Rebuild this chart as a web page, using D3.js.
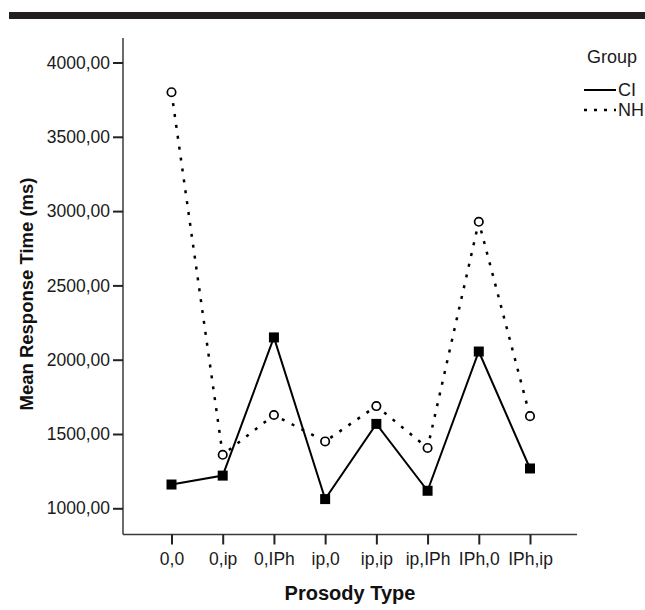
<!DOCTYPE html>
<html>
<head>
<meta charset="utf-8">
<script src="https://cdn.jsdelivr.net/npm/d3@7"></script>
<style>
  html, body { margin: 0; padding: 0; background: #fff; }
  svg { display: block; font-family: "Liberation Sans", Arial, sans-serif; }
</style>
</head>
<body>
<svg id="chart" width="645" height="610"></svg>
<script>
// Prosody types on the x axis
const categories = ["0,0", "0,ip", "0,IPh", "ip,0", "ip,ip", "ip,IPh", "IPh,0", "IPh,ip"];
// Mean response time (ms) per group
const ciValues = [1160, 1220, 2150, 1062, 1568, 1118, 2055, 1268];
const nhValues = [3800, 1360, 1628, 1450, 1688, 1406, 2928, 1620];
const yTicks = [1000, 1500, 2000, 2500, 3000, 3500, 4000];
const groups = ["CI", "NH"];

const svg = d3.select("#chart");
const fmt = v => d3.format(".2f")(v).replace(".", ",");

// Top rule
svg.append("rect").attr("x", 9).attr("y", 12).attr("width", 636).attr("height", 7).attr("fill", "#231f20");

const x = d3.scalePoint().domain(categories).range([171.5, 530]);
const y = d3.scaleLinear().domain([1000, 4000]).range([508.3, 62.5]);
const axisLeftX = 123, axisBottomY = 534.5;

// Axes lines
const axisColor = "#3a3a3a";
svg.append("line").attr("x1", axisLeftX).attr("x2", axisLeftX)
  .attr("y1", 38).attr("y2", axisBottomY).attr("stroke", axisColor).attr("stroke-width", 1.5);
svg.append("line").attr("x1", axisLeftX).attr("x2", 577)
  .attr("y1", axisBottomY).attr("y2", axisBottomY).attr("stroke", axisColor).attr("stroke-width", 1.5);

const tickFont = "17.5px";

// Y axis ticks and labels
const yAxis = svg.append("g").attr("transform", `translate(${axisLeftX},0)`)
  .call(d3.axisLeft(y).tickValues(yTicks).tickFormat(fmt).tickSize(10).tickPadding(3));
yAxis.select(".domain").remove();
yAxis.selectAll(".tick line").attr("stroke", "#222").attr("stroke-width", 2);
yAxis.selectAll(".tick text").attr("fill", "#1a1a1a").style("font-size", tickFont)
  .style("font-family", "'Liberation Sans', Arial, sans-serif");

// X axis ticks and labels
const xAxis = svg.append("g").attr("transform", `translate(0,${axisBottomY})`)
  .call(d3.axisBottom(x).tickSize(10).tickPadding(8));
xAxis.select(".domain").remove();
xAxis.selectAll(".tick line").attr("stroke", "#222").attr("stroke-width", 2);
xAxis.selectAll(".tick text").attr("fill", "#1a1a1a").style("font-size", tickFont)
  .style("font-family", "'Liberation Sans', Arial, sans-serif");

// Axis titles
svg.append("text").attr("x", 350).attr("y", 600).attr("text-anchor", "middle")
  .style("font-size", "20px").style("font-weight", "bold").attr("fill", "#111")
  .text("Prosody Type");
svg.append("text").attr("transform", "translate(33,294) rotate(-90)").attr("text-anchor", "middle")
  .style("font-size", "18.5px").style("font-weight", "bold").attr("fill", "#111")
  .text("Mean Response Time (ms)");

const line = d3.line().x((d, i) => x(categories[i])).y(d => y(d));

// NH series: dotted line with open circles
svg.append("path").datum(nhValues).attr("d", line).attr("fill", "none")
  .attr("stroke", "#000").attr("stroke-width", 2.5).attr("stroke-dasharray", "3,8");
// CI series: solid line with filled squares
svg.append("path").datum(ciValues).attr("d", line).attr("fill", "none")
  .attr("stroke", "#000").attr("stroke-width", 2);

svg.selectAll("circle.nh").data(nhValues).enter().append("circle")
  .attr("class", "nh").attr("cx", (d, i) => x(categories[i])).attr("cy", d => y(d))
  .attr("r", 4.2).attr("fill", "#fff").attr("stroke", "#000").attr("stroke-width", 1.7);
const sq = 10;
svg.selectAll("rect.ci").data(ciValues).enter().append("rect")
  .attr("class", "ci").attr("x", (d, i) => x(categories[i]) - sq / 2).attr("y", d => y(d) - sq / 2)
  .attr("width", sq).attr("height", sq).attr("fill", "#000");

// Legend
const legend = svg.append("g");
legend.append("text").attr("x", 587).attr("y", 63).style("font-size", "18px").attr("fill", "#1a1a1a").text("Group");
groups.forEach((g, i) => {
  const ly = 90 + i * 20;
  legend.append("line").attr("x1", 584).attr("x2", 616).attr("y1", ly).attr("y2", ly)
    .attr("stroke", "#000").attr("stroke-width", g === "NH" ? 2.5 : 2)
    .attr("stroke-dasharray", g === "NH" ? "3,7" : null);
  legend.append("text").attr("x", 618).attr("y", ly + 6).style("font-size", "18px").attr("fill", "#1a1a1a").text(g);
});
</script>
</body>
</html>
